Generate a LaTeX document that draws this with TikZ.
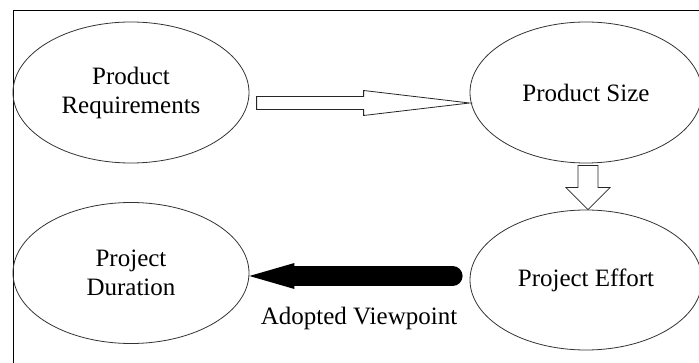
\documentclass[tikz,border=0pt]{standalone}
\usepackage{fontspec}
\setmainfont{Liberation Serif}
\usepackage{tikz}
\usetikzlibrary{shapes.geometric}
\usetikzlibrary{arrows.meta}
\usetikzlibrary{positioning}
\usetikzlibrary{calc}

\begin{document}
\begin{tikzpicture}[x=1pt,y=-1pt]
\tikzstyle{oval} = [ellipse, draw=black!80, line width=0.8pt, inner sep=0pt,
minimum width=236pt, minimum height=141pt, align=center,
font=\fontsize{25}{29}\selectfont]
\tikzstyle{hollow} = [draw=black!85, line width=0.8pt, fill=white, line join=miter]
\tikzstyle{fat} = [line width=20pt, line cap=round,
-{Triangle[length=45pt,width=26pt,line width=0pt]}]
\useasboundingbox (0,0) rectangle (699,363);
\clip (0,0) rectangle (699,363);
% frame
\draw[line width=1pt] (13,11) rectangle (720,380);
% row 1
\node [oval] (req) at (131,92.5) {Product\\Requirements};
\node [oval, minimum width=232pt] (size) at (586,92.5) {Product Size};
% row 2
\node [oval] (dur) at (131,273) {Project\\Duration};
\node [oval, minimum width=232pt, minimum height=140pt] (effort) at (586,280) {Project Effort};
\node [font=\fontsize{25}{29}\selectfont] (view) at (359,318) {Adopted Viewpoint};
% arrows
\draw[hollow] ([yshift=-10.5pt]size.west) -- ++(-106,-12.5) -- ++(0,6) -- ++(-107,0)
  -- ++(0,13) -- ++(107,0) -- ++(0,6) -- cycle;
\draw[hollow] ([xshift=2pt]effort.north) -- ++(-22,-22) -- ++(12,0) -- ++(0,-22)
  -- ++(20,0) -- ++(0,22) -- ++(12,0) -- cycle;
\draw[fat] ([xshift=-17pt,yshift=4pt]effort.west) -- ([yshift=-3pt]dur.east);
\end{tikzpicture}
\end{document}
